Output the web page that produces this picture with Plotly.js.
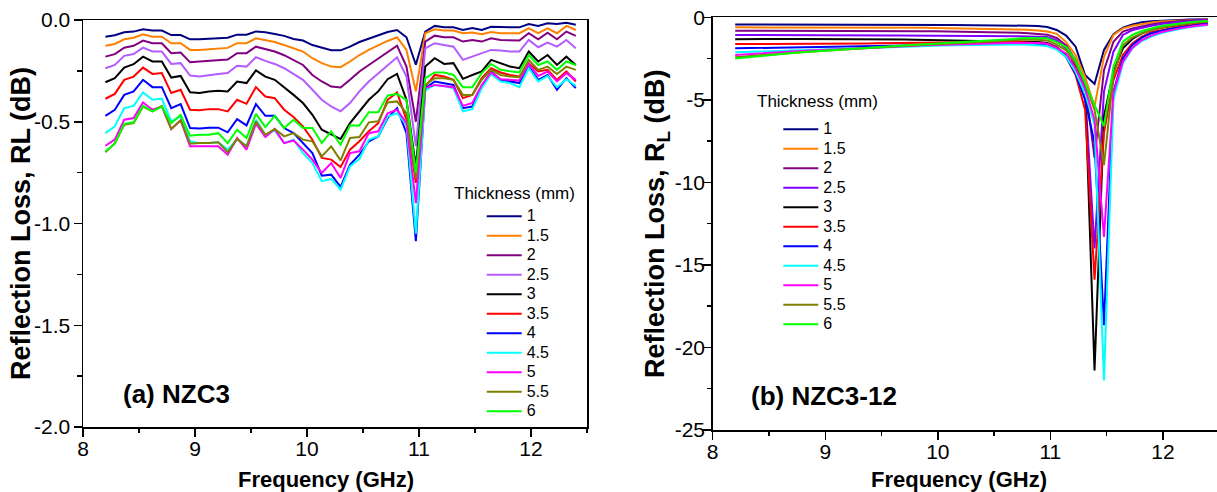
<!DOCTYPE html>
<html>
<head>
<meta charset="utf-8">
<script src="https://cdn.plot.ly/plotly-3.0.1.min.js"></script>
<style>html,body{margin:0;padding:0;overflow:hidden;background:#fff}#chart{width:1217px;height:492px}</style>
</head>
<body>
<div id="chart"></div>
<script>
// Frequency grid (GHz)
const freq = [8.200,8.284,8.368,8.452,8.536,8.620,8.704,8.788,8.872,8.956,9.040,9.124,9.208,9.292,9.376,9.460,9.544,9.628,9.712,9.796,9.880,9.964,10.048,10.132,10.216,10.300,10.384,10.468,10.552,10.636,10.720,10.804,10.888,10.972,11.056,11.140,11.224,11.308,11.392,11.476,11.560,11.644,11.728,11.812,11.896,11.980,12.064,12.148,12.232,12.316,12.400];

const thickness = ['1','1.5','2','2.5','3','3.5','4','4.5','5','5.5','6'];
const colorsA = ['#000080','#ff8000','#800080','#b35cff','#000000','#ff0000','#0000ff','#00ffff','#ff00ff','#808000','#00ff00'];
const colorsB = ['#000080','#ff8000','#800080','#8000ff','#000000','#ff0000','#0000ff','#00ffff','#ff00ff','#808000','#00ff00'];

// (a) NZC3 reflection loss (dB)
const a_1   = [-0.082,-0.075,-0.060,-0.057,-0.046,-0.052,-0.052,-0.074,-0.074,-0.095,-0.095,-0.092,-0.090,-0.087,-0.072,-0.072,-0.056,-0.060,-0.069,-0.078,-0.093,-0.101,-0.123,-0.136,-0.149,-0.149,-0.131,-0.108,-0.092,-0.074,-0.059,-0.049,-0.085,-0.220,-0.057,-0.029,-0.036,-0.036,-0.049,-0.039,-0.049,-0.033,-0.036,-0.036,-0.036,-0.020,-0.029,-0.016,-0.020,-0.013,-0.023];
const a_1_5 = [-0.126,-0.118,-0.095,-0.087,-0.070,-0.082,-0.082,-0.114,-0.114,-0.147,-0.147,-0.144,-0.141,-0.137,-0.114,-0.114,-0.090,-0.098,-0.108,-0.123,-0.139,-0.155,-0.188,-0.212,-0.229,-0.232,-0.204,-0.172,-0.147,-0.123,-0.103,-0.085,-0.147,-0.350,-0.065,-0.046,-0.052,-0.052,-0.065,-0.062,-0.070,-0.059,-0.065,-0.065,-0.065,-0.041,-0.065,-0.041,-0.065,-0.029,-0.049];
const a_2   = [-0.180,-0.168,-0.136,-0.127,-0.101,-0.114,-0.114,-0.163,-0.160,-0.208,-0.204,-0.201,-0.198,-0.194,-0.163,-0.163,-0.131,-0.142,-0.155,-0.173,-0.196,-0.221,-0.270,-0.302,-0.327,-0.332,-0.294,-0.253,-0.221,-0.188,-0.155,-0.126,-0.229,-0.500,-0.106,-0.077,-0.085,-0.085,-0.106,-0.098,-0.106,-0.090,-0.098,-0.098,-0.101,-0.065,-0.095,-0.062,-0.095,-0.057,-0.078];
const a_2_5 = [-0.237,-0.221,-0.176,-0.167,-0.136,-0.155,-0.155,-0.216,-0.212,-0.273,-0.278,-0.270,-0.265,-0.261,-0.225,-0.229,-0.183,-0.201,-0.216,-0.237,-0.265,-0.294,-0.343,-0.392,-0.425,-0.449,-0.408,-0.351,-0.302,-0.261,-0.221,-0.183,-0.278,-0.620,-0.139,-0.114,-0.123,-0.131,-0.196,-0.180,-0.163,-0.147,-0.150,-0.155,-0.155,-0.098,-0.134,-0.111,-0.131,-0.098,-0.139];
const a_3   = [-0.306,-0.286,-0.234,-0.217,-0.180,-0.204,-0.204,-0.283,-0.275,-0.355,-0.359,-0.351,-0.348,-0.351,-0.302,-0.310,-0.248,-0.278,-0.294,-0.330,-0.368,-0.408,-0.466,-0.539,-0.564,-0.585,-0.507,-0.449,-0.392,-0.351,-0.291,-0.265,-0.392,-0.720,-0.229,-0.188,-0.216,-0.212,-0.289,-0.270,-0.253,-0.196,-0.212,-0.229,-0.237,-0.155,-0.204,-0.172,-0.221,-0.180,-0.221];
const a_3_5 = [-0.387,-0.363,-0.294,-0.278,-0.234,-0.265,-0.261,-0.359,-0.343,-0.441,-0.444,-0.438,-0.438,-0.449,-0.392,-0.412,-0.330,-0.376,-0.384,-0.441,-0.477,-0.523,-0.588,-0.678,-0.686,-0.722,-0.637,-0.596,-0.547,-0.507,-0.392,-0.356,-0.490,-0.800,-0.327,-0.270,-0.278,-0.294,-0.384,-0.368,-0.286,-0.237,-0.258,-0.270,-0.278,-0.212,-0.253,-0.245,-0.294,-0.253,-0.302];
const a_4   = [-0.471,-0.441,-0.368,-0.351,-0.294,-0.330,-0.330,-0.433,-0.413,-0.531,-0.533,-0.529,-0.529,-0.552,-0.487,-0.518,-0.413,-0.471,-0.471,-0.531,-0.556,-0.605,-0.654,-0.765,-0.760,-0.820,-0.711,-0.662,-0.596,-0.572,-0.482,-0.433,-0.556,-1.087,-0.335,-0.302,-0.310,-0.319,-0.433,-0.425,-0.327,-0.253,-0.294,-0.302,-0.310,-0.229,-0.294,-0.270,-0.343,-0.286,-0.335];
const a_4_5 = [-0.556,-0.523,-0.433,-0.422,-0.356,-0.392,-0.386,-0.498,-0.474,-0.596,-0.605,-0.605,-0.601,-0.637,-0.585,-0.621,-0.490,-0.564,-0.542,-0.605,-0.588,-0.654,-0.703,-0.792,-0.781,-0.833,-0.719,-0.683,-0.588,-0.572,-0.474,-0.458,-0.515,-1.050,-0.346,-0.319,-0.324,-0.335,-0.449,-0.438,-0.335,-0.265,-0.302,-0.310,-0.330,-0.237,-0.302,-0.275,-0.330,-0.291,-0.324];
const a_5   = [-0.618,-0.588,-0.490,-0.482,-0.405,-0.441,-0.425,-0.536,-0.493,-0.621,-0.621,-0.621,-0.621,-0.662,-0.580,-0.637,-0.510,-0.575,-0.536,-0.605,-0.592,-0.637,-0.686,-0.752,-0.703,-0.776,-0.654,-0.645,-0.556,-0.547,-0.458,-0.441,-0.507,-0.900,-0.335,-0.319,-0.324,-0.330,-0.422,-0.408,-0.319,-0.258,-0.291,-0.294,-0.297,-0.216,-0.275,-0.253,-0.302,-0.261,-0.294];
const a_5_5 = [-0.650,-0.605,-0.515,-0.507,-0.425,-0.449,-0.422,-0.536,-0.493,-0.608,-0.605,-0.605,-0.601,-0.650,-0.585,-0.621,-0.498,-0.564,-0.536,-0.572,-0.556,-0.588,-0.596,-0.670,-0.621,-0.690,-0.580,-0.575,-0.503,-0.498,-0.405,-0.400,-0.458,-0.780,-0.319,-0.286,-0.286,-0.294,-0.368,-0.368,-0.294,-0.245,-0.270,-0.278,-0.281,-0.196,-0.245,-0.229,-0.265,-0.229,-0.245];
const a_6   = [-0.645,-0.608,-0.510,-0.503,-0.422,-0.449,-0.425,-0.507,-0.466,-0.569,-0.564,-0.564,-0.556,-0.605,-0.539,-0.580,-0.461,-0.526,-0.471,-0.531,-0.490,-0.531,-0.531,-0.605,-0.547,-0.613,-0.518,-0.518,-0.453,-0.453,-0.371,-0.364,-0.392,-0.750,-0.286,-0.258,-0.258,-0.270,-0.330,-0.330,-0.261,-0.216,-0.245,-0.253,-0.258,-0.172,-0.221,-0.204,-0.245,-0.204,-0.221];

// (b) NZC3-12 reflection loss (dB)
const b_1   = [-0.43,-0.43,-0.42,-0.43,-0.43,-0.42,-0.42,-0.43,-0.43,-0.42,-0.42,-0.42,-0.43,-0.43,-0.42,-0.42,-0.42,-0.42,-0.43,-0.43,-0.44,-0.45,-0.46,-0.47,-0.47,-0.47,-0.47,-0.47,-0.47,-0.48,-0.49,-0.51,-0.53,-0.59,-0.77,-1.11,-1.78,-3.50,-4.04,-1.98,-1.03,-0.63,-0.43,-0.30,-0.24,-0.20,-0.18,-0.16,-0.14,-0.12,-0.12];
const b_1_5 = [-0.61,-0.61,-0.60,-0.61,-0.61,-0.61,-0.62,-0.62,-0.62,-0.62,-0.62,-0.62,-0.63,-0.63,-0.63,-0.62,-0.62,-0.63,-0.63,-0.63,-0.64,-0.65,-0.66,-0.67,-0.67,-0.67,-0.67,-0.67,-0.68,-0.70,-0.72,-0.75,-0.80,-0.86,-1.00,-1.50,-2.30,-3.60,-5.40,-2.40,-1.07,-0.67,-0.51,-0.41,-0.32,-0.26,-0.22,-0.20,-0.18,-0.16,-0.14];
const b_2   = [-0.81,-0.81,-0.80,-0.81,-0.82,-0.82,-0.82,-0.83,-0.83,-0.82,-0.82,-0.83,-0.83,-0.83,-0.83,-0.82,-0.82,-0.83,-0.83,-0.83,-0.84,-0.85,-0.86,-0.87,-0.87,-0.87,-0.87,-0.87,-0.88,-0.90,-0.93,-0.97,-1.00,-1.05,-1.25,-1.70,-2.60,-4.00,-8.50,-3.20,-1.48,-0.87,-0.67,-0.53,-0.43,-0.35,-0.28,-0.24,-0.20,-0.18,-0.16];
const b_2_5 = [-1.07,-1.07,-1.06,-1.07,-1.07,-1.07,-1.07,-1.07,-1.08,-1.08,-1.08,-1.09,-1.09,-1.09,-1.10,-1.10,-1.10,-1.11,-1.11,-1.11,-1.11,-1.11,-1.11,-1.11,-1.11,-1.11,-1.11,-1.11,-1.12,-1.13,-1.15,-1.17,-1.18,-1.20,-1.40,-1.90,-2.90,-4.50,-14.00,-4.50,-2.08,-1.07,-0.77,-0.63,-0.51,-0.41,-0.35,-0.28,-0.24,-0.20,-0.18];
const b_3   = [-1.33,-1.32,-1.32,-1.31,-1.31,-1.31,-1.31,-1.31,-1.31,-1.31,-1.31,-1.31,-1.31,-1.31,-1.31,-1.32,-1.33,-1.34,-1.35,-1.36,-1.37,-1.38,-1.39,-1.40,-1.41,-1.42,-1.43,-1.44,-1.44,-1.45,-1.46,-1.48,-1.50,-1.55,-1.80,-2.30,-3.00,-4.20,-21.40,-6.00,-3.30,-1.88,-1.31,-0.97,-0.77,-0.63,-0.53,-0.45,-0.37,-0.30,-0.26];
const b_3_5 = [-1.62,-1.62,-1.61,-1.61,-1.60,-1.60,-1.60,-1.60,-1.60,-1.59,-1.59,-1.59,-1.58,-1.58,-1.58,-1.57,-1.57,-1.56,-1.56,-1.55,-1.55,-1.54,-1.53,-1.52,-1.51,-1.50,-1.49,-1.48,-1.48,-1.49,-1.50,-1.52,-1.55,-1.60,-1.85,-2.40,-3.50,-5.60,-15.90,-7.00,-3.80,-2.28,-1.58,-1.17,-0.91,-0.77,-0.67,-0.57,-0.47,-0.41,-0.35];
const b_4   = [-1.88,-1.87,-1.86,-1.85,-1.84,-1.83,-1.82,-1.82,-1.81,-1.80,-1.78,-1.77,-1.76,-1.75,-1.74,-1.73,-1.71,-1.70,-1.69,-1.67,-1.66,-1.64,-1.63,-1.62,-1.61,-1.60,-1.59,-1.58,-1.58,-1.58,-1.59,-1.60,-1.62,-1.67,-1.90,-2.40,-3.40,-5.00,-7.60,-18.65,-4.50,-2.49,-1.68,-1.23,-0.97,-0.83,-0.71,-0.61,-0.51,-0.45,-0.39];
const b_4_5 = [-2.12,-2.10,-2.07,-2.05,-2.03,-2.01,-1.99,-1.98,-1.96,-1.94,-1.92,-1.90,-1.88,-1.86,-1.84,-1.82,-1.80,-1.78,-1.76,-1.74,-1.73,-1.72,-1.71,-1.70,-1.69,-1.68,-1.66,-1.65,-1.64,-1.64,-1.65,-1.67,-1.70,-1.74,-1.95,-2.40,-3.30,-4.60,-6.50,-22.00,-5.00,-2.79,-1.88,-1.44,-1.17,-0.97,-0.83,-0.71,-0.61,-0.53,-0.47];
const b_5   = [-2.28,-2.24,-2.20,-2.17,-2.14,-2.10,-2.07,-2.04,-2.01,-1.98,-1.95,-1.92,-1.89,-1.86,-1.84,-1.81,-1.79,-1.76,-1.74,-1.72,-1.70,-1.68,-1.66,-1.65,-1.63,-1.62,-1.60,-1.59,-1.58,-1.56,-1.55,-1.54,-1.56,-1.60,-1.85,-2.20,-3.10,-4.30,-6.20,-13.30,-4.60,-2.69,-1.84,-1.38,-1.11,-0.91,-0.77,-0.67,-0.57,-0.49,-0.43];
const b_5_5 = [-2.42,-2.37,-2.33,-2.28,-2.24,-2.20,-2.16,-2.12,-2.08,-2.04,-2.00,-1.96,-1.92,-1.88,-1.84,-1.81,-1.78,-1.75,-1.72,-1.69,-1.67,-1.64,-1.61,-1.58,-1.55,-1.52,-1.49,-1.46,-1.44,-1.41,-1.38,-1.34,-1.36,-1.40,-1.65,-2.00,-2.80,-4.00,-5.60,-8.95,-3.50,-1.68,-1.23,-0.97,-0.77,-0.63,-0.53,-0.45,-0.37,-0.30,-0.26];
const b_6   = [-2.49,-2.43,-2.38,-2.33,-2.28,-2.23,-2.17,-2.12,-2.08,-2.03,-1.99,-1.94,-1.90,-1.86,-1.82,-1.79,-1.76,-1.72,-1.69,-1.66,-1.63,-1.60,-1.57,-1.54,-1.51,-1.47,-1.44,-1.40,-1.37,-1.33,-1.29,-1.25,-1.24,-1.27,-1.50,-1.80,-2.60,-4.00,-5.30,-6.60,-3.00,-1.48,-1.07,-0.83,-0.67,-0.53,-0.45,-0.37,-0.30,-0.26,-0.22];

// Tick labels
const xTickVals = [8,9,10,11,12];
const xTickText = ['8','9','10','11','12'];
const xMinorVals = [8.5,9.5,10.5,11.5,12.5];
const yaTickVals = [-2.0,-1.5,-1.0,-0.5,0.0];
const yaTickText = ['-2.0','-1.5','-1.0','-0.5','0.0'];
const yaMinorVals = [-1.75,-1.25,-0.75,-0.25];
const ybTickVals = [-25,-20,-15,-10,-5,0];
const ybTickText = ['-25','-20','-15','-10','-5','0'];
const ybMinorVals = [-22.5,-17.5,-12.5,-7.5,-2.5];

const seriesA = [a_1,a_1_5,a_2,a_2_5,a_3,a_3_5,a_4,a_4_5,a_5,a_5_5,a_6];
const seriesB = [b_1,b_1_5,b_2,b_2_5,b_3,b_3_5,b_4,b_4_5,b_5,b_5_5,b_6];

const W = 1217, H = 492;
const px = v => v / W;
const py = v => 1 - v / H;
const FONT = 'Liberation Sans, Arial, Helvetica, sans-serif';
// legend rows keep the compact spacing of a small legend font; labels are shown larger
const legendLabel = t => "<span style='font-size:16px'>" + t + "</span>";

const traces = [];
seriesA.forEach((s, k) => traces.push({
  x: freq, y: s, type: 'scatter', mode: 'lines', name: legendLabel(thickness[k]),
  line: {color: colorsA[k], width: 2}, xaxis: 'x', yaxis: 'y', legend: 'legend'
}));
seriesB.forEach((s, k) => traces.push({
  x: freq, y: s, type: 'scatter', mode: 'lines', name: legendLabel(thickness[k]),
  line: {color: colorsB[k], width: 2}, xaxis: 'x2', yaxis: 'y2', legend: 'legend2'
}));

function axisBase(extra) {
  return Object.assign({
    showline: true, linecolor: '#000', linewidth: 1.5,
    ticks: 'outside', ticklen: 8, tickwidth: 1.5, tickcolor: '#000',
    showgrid: false, zeroline: false, tickmode: 'array',
    tickfont: {family: FONT, size: 21, color: '#000'},
    fixedrange: true
  }, extra);
}
const minorBase = vals => ({tickmode: 'array', tickvals: vals, ticks: 'outside', ticklen: 4.5, tickwidth: 1.5, tickcolor: '#000', showgrid: false});

const layout = {
  width: W, height: H,
  margin: {l: 0, r: 0, t: 0, b: 0},
  paper_bgcolor: '#fff', plot_bgcolor: '#fff',
  showlegend: true,
  font: {family: FONT, color: '#000'},
  xaxis: axisBase({domain: [px(83), px(587)], range: [8, 12.5], anchor: 'y', mirror: true, ticklabelstandoff: -6,
    tickvals: xTickVals, ticktext: xTickText, minor: minorBase(xMinorVals)}),
  yaxis: axisBase({domain: [py(427), py(20)], range: [-2, 0], anchor: 'x', mirror: true, ticklabelstandoff: -1,
    tickvals: yaTickVals, ticktext: yaTickText, minor: minorBase(yaMinorVals)}),
  xaxis2: axisBase({domain: [px(712.7), 1], range: [8, 12.48], anchor: 'y2', mirror: true, ticklabelstandoff: -6,
    tickvals: xTickVals, ticktext: xTickText, minor: minorBase(xMinorVals)}),
  yaxis2: axisBase({domain: [py(430), py(17.3)], range: [-25, 0], anchor: 'x2', mirror: false, ticklabelstandoff: -6,
    tickvals: ybTickVals, ticktext: ybTickText, minor: minorBase(ybMinorVals)}),
  legend: {x: px(481.7), y: py(201.5), xanchor: 'left', yanchor: 'top', bgcolor: 'rgba(0,0,0,0)',
    borderwidth: 0, font: {family: FONT, size: 12.7, color: '#000'}, tracegroupgap: 0, itemwidth: 35, itemclick: false},
  legend2: {x: px(778.3), y: py(114.5), xanchor: 'left', yanchor: 'top', bgcolor: 'rgba(0,0,0,0)',
    borderwidth: 0, font: {family: FONT, size: 12.7, color: '#000'}, tracegroupgap: 0, itemwidth: 35, itemclick: false},
  annotations: [
    {text: 'Thickness (mm)', xref: 'paper', yref: 'paper', x: px(451.7), y: py(193), xanchor: 'left', yanchor: 'middle', showarrow: false, font: {family: FONT, size: 17}},
    {text: 'Thickness (mm)', xref: 'paper', yref: 'paper', x: px(755), y: py(102), xanchor: 'left', yanchor: 'middle', showarrow: false, font: {family: FONT, size: 17}},
    {text: '<b>(a) NZC3</b>', xref: 'paper', yref: 'paper', x: px(121), y: py(394), xanchor: 'left', yanchor: 'middle', showarrow: false, font: {family: FONT, size: 26}},
    {text: '<b>(b) NZC3-12</b>', xref: 'paper', yref: 'paper', x: px(749), y: py(396), xanchor: 'left', yanchor: 'middle', showarrow: false, font: {family: FONT, size: 26}},
    {text: '<b>Frequency (GHz)</b>', xref: 'paper', yref: 'paper', x: px(326), y: py(479), xanchor: 'center', yanchor: 'middle', showarrow: false, font: {family: FONT, size: 22}},
    {text: '<b>Frequency (GHz)</b>', xref: 'paper', yref: 'paper', x: px(959), y: py(479), xanchor: 'center', yanchor: 'middle', showarrow: false, font: {family: FONT, size: 22}},
    {text: '<b>Reflection Loss, RL (dB)</b>', xref: 'paper', yref: 'paper', x: px(21), y: py(224), xanchor: 'center', yanchor: 'middle', textangle: -90, showarrow: false, font: {family: FONT, size: 27}},
    {text: '<b>Reflection Loss, R<sub>L</sub> (dB)</b>', xref: 'paper', yref: 'paper', x: px(657), y: py(224), xanchor: 'center', yanchor: 'middle', textangle: -90, showarrow: false, font: {family: FONT, size: 27}}
  ]
};

Plotly.newPlot('chart', traces, layout, {displayModeBar: false, staticPlot: true});
</script>
</body>
</html>
